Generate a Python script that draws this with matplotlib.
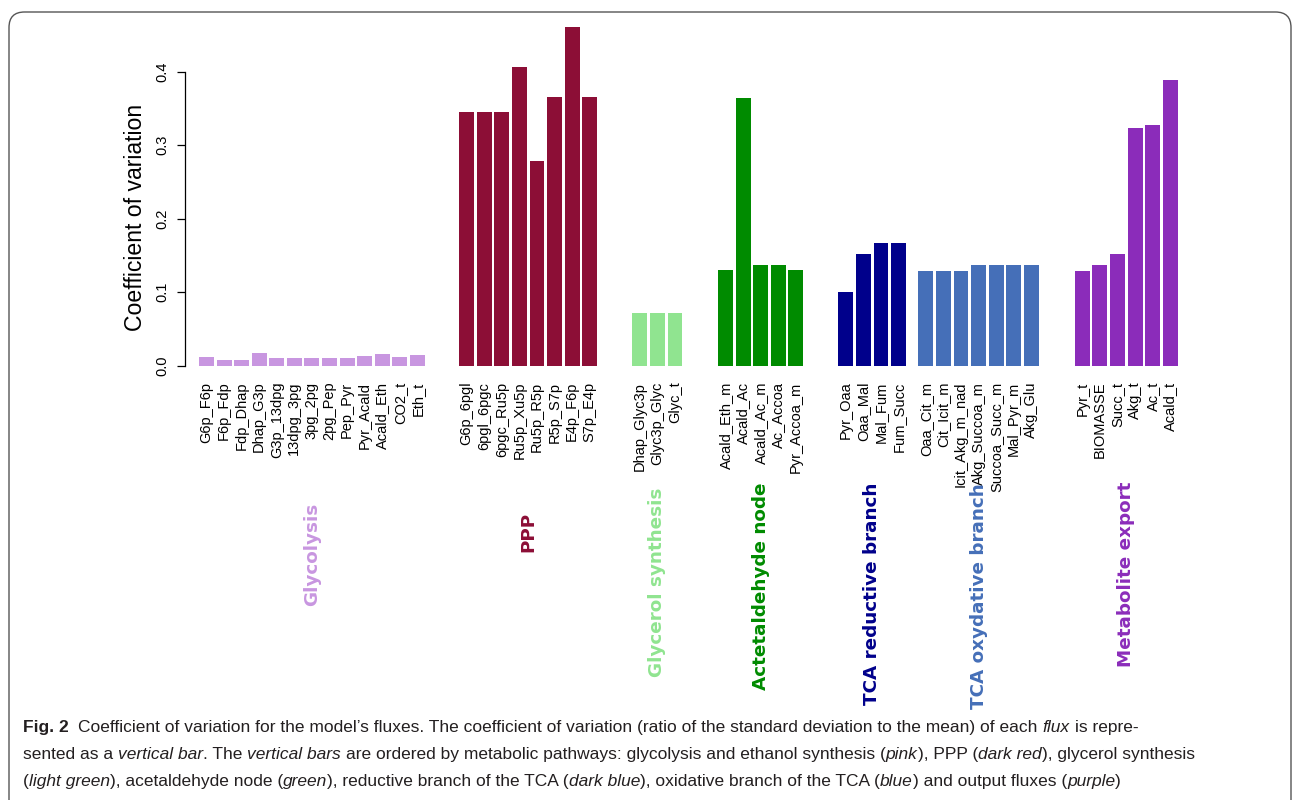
import matplotlib
matplotlib.use("Agg")
import matplotlib.pyplot as plt
import matplotlib.transforms as mtransforms
from matplotlib.patches import FancyBboxPatch

# coefficient of variation per flux, grouped by pathway
glyc_names = ['G6p_F6p', 'F6p_Fdp', 'Fdp_Dhap', 'Dhap_G3p', 'G3p_13dpg', '13dpg_3pg',
              '3pg_2pg', '2pg_Pep', 'Pep_Pyr', 'Pyr_Acald', 'Acald_Eth', 'CO2_t', 'Eth_t']
glyc_cv = [0.0118, 0.0077, 0.0077, 0.0172, 0.0104, 0.0104, 0.0104, 0.0104, 0.0104,
           0.0132, 0.0159, 0.0118, 0.0145]

ppp_names = ['G6p_6pgl', '6pgl_6pgc', '6pgc_Ru5p', 'Ru5p_Xu5p', 'Ru5p_R5p', 'R5p_S7p',
             'E4p_F6p', 'S7p_E4p']
ppp_cv = [0.3451, 0.3451, 0.3451, 0.4063, 0.2785, 0.3655, 0.4608, 0.3655]

glycerol_names = ['Dhap_Glyc3p', 'Glyc3p_Glyc', 'Glyc_t']
glycerol_cv = [0.0717, 0.0717, 0.0717]

acald_names = ['Acald_Eth_m', 'Acald_Ac', 'Acald_Ac_m', 'Ac_Accoa', 'Pyr_Accoa_m']
acald_cv = [0.1302, 0.3642, 0.1370, 0.1370, 0.1302]

tca_red_names = ['Pyr_Oaa', 'Oaa_Mal', 'Mal_Fum', 'Fum_Succ']
tca_red_cv = [0.1002, 0.1519, 0.1669, 0.1669]

tca_ox_names = ['Oaa_Cit_m', 'Cit_Icit_m', 'Icit_Akg_m_nad', 'Akg_Succoa_m',
                'Succoa_Succ_m', 'Mal_Pyr_m', 'Akg_Glu']
tca_ox_cv = [0.1288, 0.1288, 0.1288, 0.1370, 0.1370, 0.1370, 0.1370]

export_names = ['Pyr_t', 'BIOMASSE', 'Succ_t', 'Akg_t', 'Ac_t', 'Acald_t']
export_cv = [0.1288, 0.1370, 0.1519, 0.3234, 0.3274, 0.3887]

group_titles = ['Glycolysis', 'PPP', 'Glycerol synthesis', 'Actetaldehyde node',
                'TCA reductive branch', 'TCA oxydative branch', 'Metabolite export']

groups = [
    (glyc_names, glyc_cv, '#C896E0'),
    (ppp_names, ppp_cv, '#8C0E36'),
    (glycerol_names, glycerol_cv, '#90E490'),
    (acald_names, acald_cv, '#008B00'),
    (tca_red_names, tca_red_cv, '#00008B'),
    (tca_ox_names, tca_ox_cv, '#456FB8'),
    (export_names, export_cv, '#8B2CBA'),
]
# empty space before each group, in bar slots
group_gaps = [0, 1.8, 1.85, 1.88, 1.84, 0.55, 1.9]
# top of each group title, in pixels from the top of the figure
title_tops = [503, 512, 488, 482, 483, 483, 482]

W, H = 1293, 800
fig = plt.figure(figsize=(W / 100, H / 100), dpi=100)

ax_left, ax_right, ax_top, ax_bot = 185, 1200, 20, 365.7
ax = fig.add_axes([ax_left / W, 1 - ax_bot / H, (ax_right - ax_left) / W, (ax_bot - ax_top) / H])

pitch = 17.58
bar_w = 0.85
pos = 0.0
centers, labels, group_centers = [], [], []
for (names, vals, color), gap in zip(groups, group_gaps):
    pos += gap
    xs = [pos + i + bar_w / 2 for i in range(len(vals))]
    ax.bar(xs, vals, width=bar_w, color=color, linewidth=0)
    centers += xs
    labels += names
    group_centers.append(pos + (len(vals) - 1 + bar_w) / 2)
    pos += len(vals)

ax.set_xlim((ax_left - 199) / pitch, (ax_right - 199) / pitch)
ax.set_ylim(0, (ax_bot - ax_top) / 735)

for side in ['top', 'right', 'bottom']:
    ax.spines[side].set_visible(False)
ax.spines['left'].set_bounds(0, 0.4)
ax.spines['left'].set_linewidth(0.9)

ax.set_yticks([0.0, 0.1, 0.2, 0.3, 0.4])
ax.set_yticklabels(['0.0', '0.1', '0.2', '0.3', '0.4'], rotation=90, va='center',
                   fontsize=10.5, family='Liberation Sans')
ax.tick_params(axis='y', length=5.5, width=0.9, pad=6)

ax.set_xticks(centers)
ax.set_xticklabels(labels, rotation=90, fontsize=10.5, family='Liberation Sans')
ax.tick_params(axis='x', length=0, pad=11.5)

fig.text(135 / W, 1 - 217.5 / H, 'Coefficient of variation', rotation=90,
         ha='center', va='center', fontsize=16.6, family='Liberation Sans')

# pathway names under the tick labels
trans = mtransforms.blended_transform_factory(ax.transData, fig.transFigure)
for title, xc, top, (_, _, color) in zip(group_titles, group_centers, title_tops, groups):
    ax.text(xc, 1 - top / H, title, transform=trans, rotation=90, ha='center', va='top',
            fontsize=13.2, fontweight='bold', color=color, family='DejaVu Sans')

# rounded frame
frame = FancyBboxPatch((9 / W, -0.05), (1291 - 9) / W, (H - 12) / H + 0.05,
                       boxstyle='round,pad=0,rounding_size=0.012',
                       transform=fig.transFigure, facecolor='none',
                       edgecolor='#555555', linewidth=1.0, mutation_aspect=W / H)
fig.patches.append(frame)

# caption with mixed bold / italic runs
cap_lines = [
    [('Fig. 2', 'bold'), ('  Coefficient of variation for the model’s fluxes. The coefficient of '
      'variation (ratio of the standard deviation to the mean) of each ', 'normal'),
     ('flux', 'italic'), (' is repre-', 'normal')],
    [('sented as a ', 'normal'), ('vertical bar', 'italic'), ('. The ', 'normal'),
     ('vertical bars', 'italic'),
     (' are ordered by metabolic pathways: glycolysis and ethanol synthesis (', 'normal'),
     ('pink', 'italic'), ('), PPP (', 'normal'), ('dark red', 'italic'),
     ('), glycerol synthesis', 'normal')],
    [('(', 'normal'), ('light green', 'italic'), ('), acetaldehyde node (', 'normal'),
     ('green', 'italic'), ('), reductive branch of the TCA (', 'normal'),
     ('dark blue', 'italic'), ('), oxidative branch of the TCA (', 'normal'),
     ('blue', 'italic'), (') and output fluxes (', 'normal'), ('purple', 'italic'),
     (')', 'normal')],
]
cap_baselines = [732, 759, 786]
cap_font = ['Liberation Sans Narrow', 'Liberation Sans']
cap_size = 12.5
renderer = fig.canvas.get_renderer()


def run_width(s, style):
    t = fig.text(0, 0, s, fontsize=cap_size, family=cap_font,
                 fontweight='bold' if style == 'bold' else 'normal',
                 fontstyle='italic' if style == 'italic' else 'normal')
    w = t.get_window_extent(renderer).width
    t.remove()
    return w


space_w = run_width('a a', 'normal') - run_width('aa', 'normal')

for runs, base in zip(cap_lines, cap_baselines):
    x = 23
    for s, style in runs:
        lead = len(s) - len(s.lstrip(' '))
        trail = len(s) - len(s.rstrip(' '))
        core = s.strip(' ')
        x += lead * space_w
        t = fig.text(x / W, 1 - base / H, core, fontsize=cap_size, family=cap_font,
                     color='#231F20', va='baseline', ha='left',
                     fontweight='bold' if style == 'bold' else 'normal',
                     fontstyle='italic' if style == 'italic' else 'normal')
        x += t.get_window_extent(renderer).width + trail * space_w

fig.savefig('out.png', dpi=100)
